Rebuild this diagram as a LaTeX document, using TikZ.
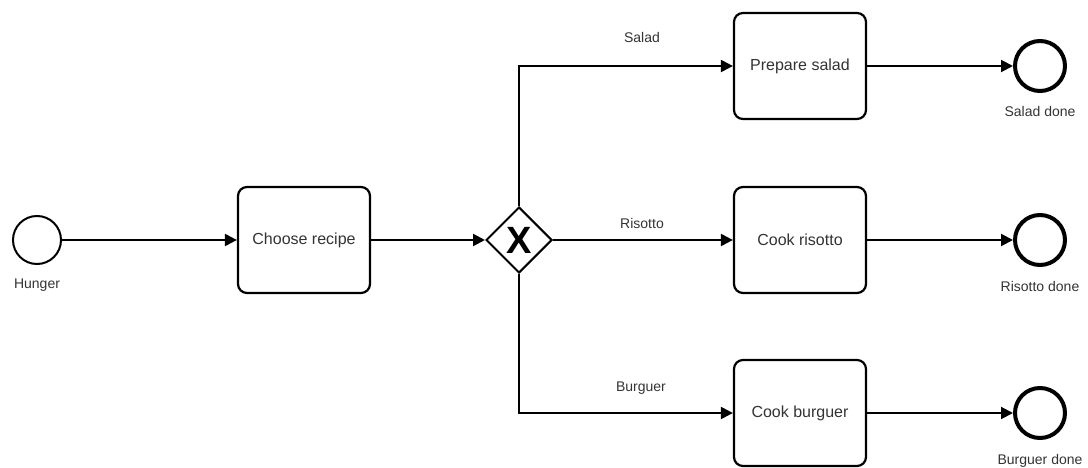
\documentclass[tikz,border=0pt]{standalone}
\usepackage{fontspec}
\setmainfont{Liberation Sans}
\usetikzlibrary{arrows.meta,positioning,shapes.geometric}
\definecolor{flowink}{HTML}{000000}
\definecolor{textink}{HTML}{333333}

\tikzset{
  task/.style={draw=flowink,rounded corners=9pt,line width=2.2pt,
    minimum width=132pt,minimum height=106pt,
    font=\fontsize{16}{18}\selectfont,text=textink},
  startev/.style={circle,draw=flowink,line width=2pt,
    minimum size=48pt,inner sep=0pt},
  endev/.style={circle,draw=flowink,line width=4pt,
    minimum size=50pt,inner sep=0pt},
  xgate/.style={diamond,aspect=1,draw=flowink,line width=2pt,
    minimum width=66pt,minimum height=66pt,inner sep=0pt,
    font=\bfseries\fontsize{38}{38}\selectfont},
  flow/.style={draw=flowink,line width=2pt,
    -{Triangle[length=12pt,width=12pt]}},
  lbl/.style={font=\fontsize{14}{16}\selectfont,text=textink,
    text height=10pt,text depth=3pt,inner sep=2pt},
}

\begin{document}
\begin{tikzpicture}[x=1pt,y=-1pt]
  \useasboundingbox (0,0) rectangle (1088,468);

  % events, tasks and the gateway
  \node[startev] (hunger) at (37,240) {};
  \node[lbl,below=11pt of hunger] (hungerlbl) {Hunger};
  \node[task] (choose) at (304,240) {Choose recipe};
  \node[xgate] (gw) at (519,240) {X};

  \node[task] (salad) at (800,66) {Prepare salad};
  \node[task] (risotto) at (800,240) {Cook risotto};
  \node[task] (burguer) at (800,413) {Cook burguer};

  \node[endev] (saladend) at (1040,66) {};
  \node[lbl,below=11pt of saladend] (saladendlbl) {Salad done};
  \node[endev] (risottoend) at (1040,240) {};
  \node[lbl,below=12pt of risottoend] (risottoendlbl) {Risotto done};
  \node[endev] (burguerend) at (1040,413) {};
  \node[lbl,below=12pt of burguerend] (burguerendlbl) {Burguer done};

  % sequence flows
  \draw[flow] (hunger.east) -- (choose.west);
  \draw[flow] (choose.east) -- (gw.west);
  \draw[flow] (gw.north) |- (salad.west);
  \draw[flow] (gw.east) -- (risotto.west);
  \draw[flow] (gw.south) |- (burguer.west);
  \draw[flow] (salad.east) -- (saladend.west);
  \draw[flow] (risotto.east) -- (risottoend.west);
  \draw[flow] (burguer.east) -- (burguerend.west);

  % flow labels
  \node[lbl] (saladlbl) at (642,39) {Salad};
  \node[lbl] (risottolbl) at (642,225) {Risotto};
  \node[lbl] (burguerlbl) at (641,388) {Burguer};
\end{tikzpicture}
\end{document}
